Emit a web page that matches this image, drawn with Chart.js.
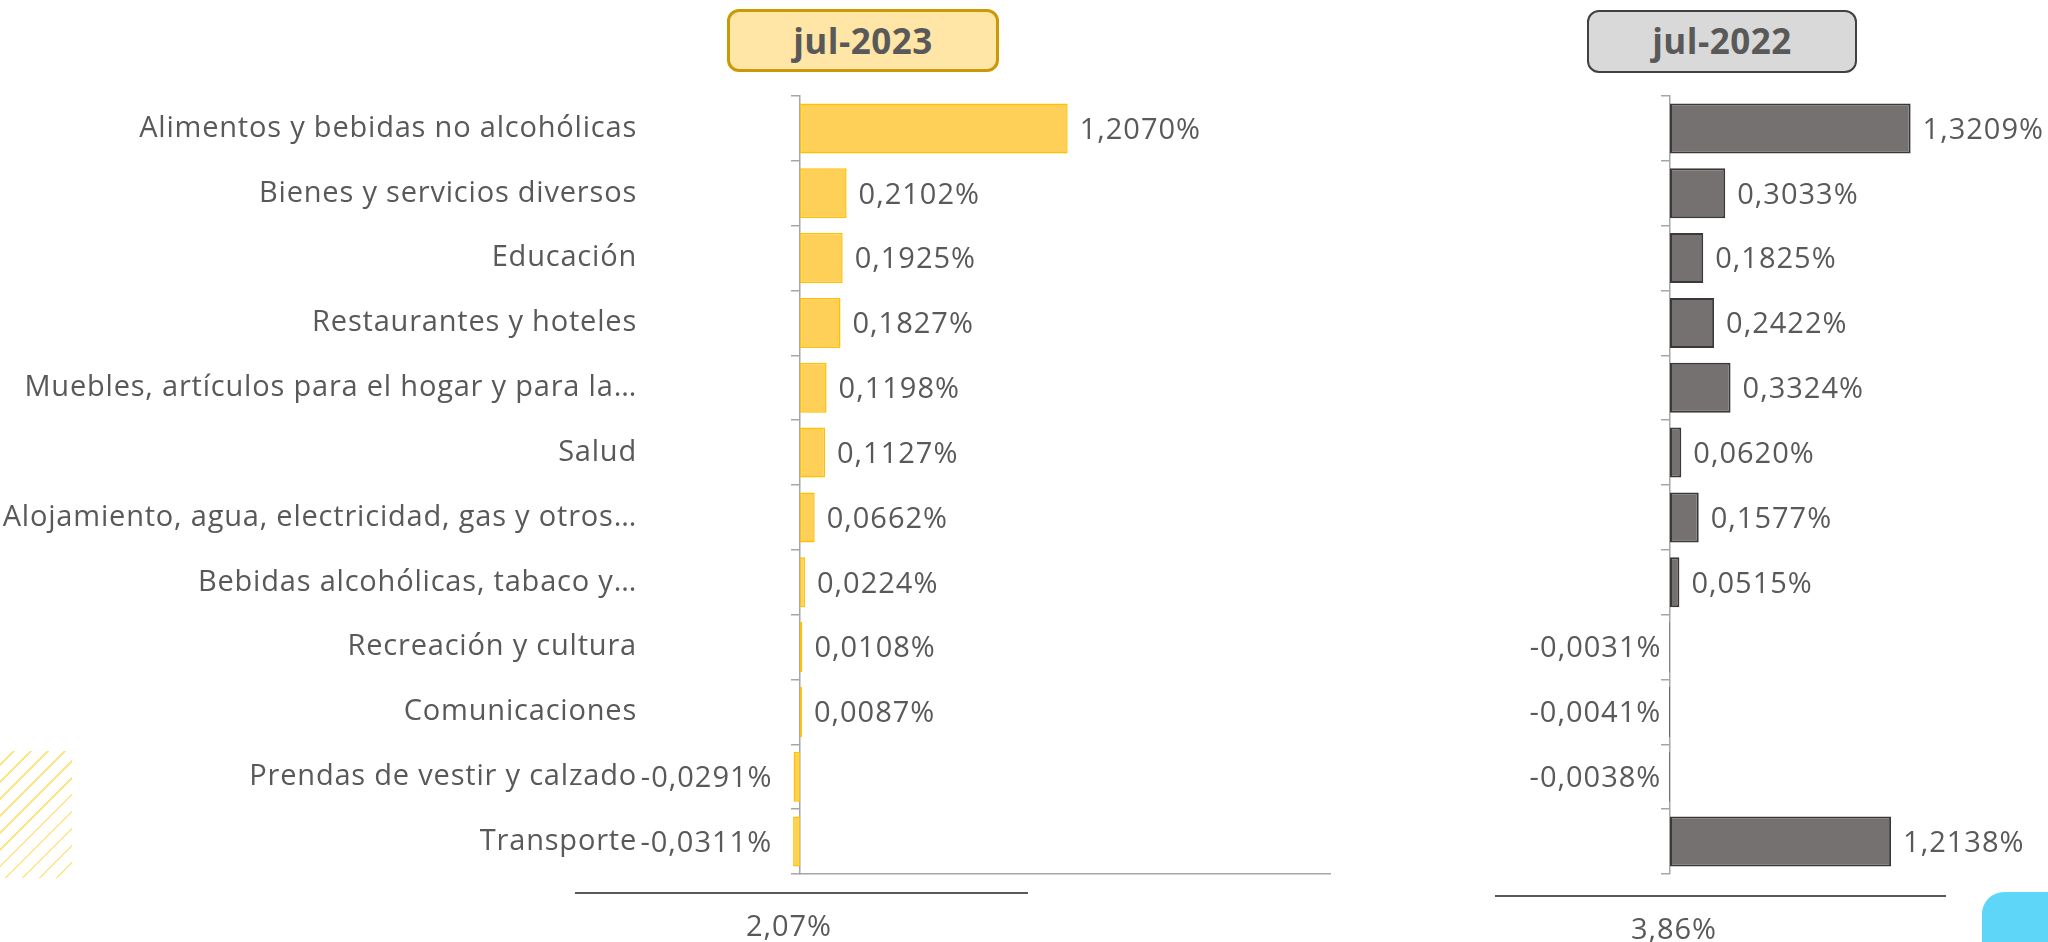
<!DOCTYPE html>
<html>
<head>
<meta charset="utf-8">
<script src="https://cdn.jsdelivr.net/npm/chart.js@4.4.0/dist/chart.umd.min.js"></script>
<style>
  body { margin: 0; width: 2048px; height: 942px; background: #fff; position: relative; overflow: hidden;
         font-family: 'Open Sans', sans-serif; color: #595959; }
  canvas { position: absolute; top: 0; }
  #chart-2023 { left: 0; }
  #chart-2022 { left: 1400px; }
  .badge { position: absolute; box-sizing: border-box; border-radius: 12px; text-align: center;
           font-weight: bold; font-size: 35px; line-height: 58px; color: #595959; letter-spacing: 0.5px; }
  #badge-2023 { left: 727px; top: 9px; width: 272px; height: 63px; background: #FFE6A6; border: 3px solid #C99A06; }
  #badge-2022 { left: 1587px; top: 10px; width: 270px; height: 63px; background: #D9D9D9; border: 2px solid #404040; }
  .total-line { position: absolute; height: 0; border-top: 2px solid #595959; }
  .total { position: absolute; width: 200px; text-align: center; font-size: 29px; letter-spacing: 1px; }
  #stripes { position: absolute; left: 0; top: 751px; width: 72px; height: 127px;
             background: repeating-linear-gradient(-45deg, transparent 0 10px, #FFE48A 10px 12px); }
  #corner { position: absolute; left: 1982px; top: 892px; width: 80px; height: 60px; background: #5ED6F8; border-radius: 22px 0 0 0; }
</style>
</head>
<body>
<div id="stripes"></div>
<div id="corner"></div>
<div class="badge" id="badge-2023">jul-2023</div>
<div class="badge" id="badge-2022">jul-2022</div>
<canvas id="chart-2023" width="1400" height="942"></canvas>
<canvas id="chart-2022" width="648" height="942"></canvas>
<div class="total-line" style="left:575px; top:892px; width:453px;"></div>
<div class="total" id="total-2023" style="left:689px; top:905px;"></div>
<div class="total-line" style="left:1495px; top:895px; width:451px;"></div>
<div class="total" id="total-2022" style="left:1574px; top:908px;"></div>
<script>
// --- Data ---
const categories = [
  'Alimentos y bebidas no alcohólicas',
  'Bienes y servicios diversos',
  'Educación',
  'Restaurantes y hoteles',
  'Muebles, artículos para el hogar y para la…',
  'Salud',
  'Alojamiento, agua, electricidad, gas y otros…',
  'Bebidas alcohólicas, tabaco y…',
  'Recreación y cultura',
  'Comunicaciones',
  'Prendas de vestir y calzado',
  'Transporte'
];
const values2023 = [1.2070, 0.2102, 0.1925, 0.1827, 0.1198, 0.1127, 0.0662, 0.0224, 0.0108, 0.0087, -0.0291, -0.0311];
const values2022 = [1.3209, 0.3033, 0.1825, 0.2422, 0.3324, 0.0620, 0.1577, 0.0515, -0.0031, -0.0041, -0.0038, 1.2138];
const totals = { '2023': '2,07%', '2022': '3,86%' };

const textColor = '#595959';
const axisColor = '#A6A6A6';
const fontFamily = "'Open Sans', sans-serif";

function fmt(v) {
  return v.toFixed(4).replace('.', ',') + '%';
}

// wider text, closer to the original typeface
const textSpacing = {
  id: 'textSpacing',
  beforeDraw(chart) { chart.ctx.letterSpacing = '0.8px'; }
};

// value labels next to each bar
const valueLabels = {
  id: 'valueLabels',
  afterDatasetsDraw(chart, args, opts) {
    const ctx = chart.ctx;
    const meta = chart.getDatasetMeta(0);
    const data = chart.data.datasets[0].data;
    ctx.save();
    ctx.letterSpacing = '1px';
    ctx.font = '29px ' + fontFamily;
    ctx.fillStyle = textColor;
    ctx.textBaseline = 'middle';
    meta.data.forEach((bar, i) => {
      const v = data[i];
      if (v >= 0) {
        ctx.textAlign = 'left';
        ctx.fillText(fmt(v), bar.x + opts.gap, bar.y + 2);
      } else {
        ctx.textAlign = 'right';
        ctx.fillText(fmt(v), bar.x - opts.negGap, bar.y + 2);
      }
    });
    ctx.restore();
  }
};

function makeChart(id, values, cfg) {
  const ctx = document.getElementById(id).getContext('2d');
  return new Chart(ctx, {
    type: 'bar',
    data: {
      labels: categories,
      datasets: [{
        data: values,
        backgroundColor: cfg.fill,
        borderColor: cfg.border,
        borderWidth: cfg.borderWidth,
        borderSkipped: false,
        categoryPercentage: 0.77,
        barPercentage: 1,
        clip: false
      }]
    },
    plugins: [textSpacing, valueLabels],
    options: {
      indexAxis: 'y',
      responsive: false,
      animation: false,
      layout: { padding: cfg.padding },
      plugins: {
        legend: { display: false },
        tooltip: { enabled: false },
        valueLabels: { gap: cfg.gap, negGap: cfg.negGap }
      },
      scales: {
        x: {
          type: 'linear',
          min: 0,
          max: cfg.max,
          display: cfg.showBottom,
          ticks: { display: false },
          grid: { display: false, drawTicks: false },
          border: { display: cfg.showBottom, color: axisColor, width: 1.5 }
        },
        y: {
          type: 'category',
          position: 'left',
          afterFit: s => {
            s.width = cfg.axisX;
            s.paddingTop = 0;
            s.paddingBottom = 0;
          },
          ticks: {
            display: cfg.showLabels,
            autoSkip: false,
            color: textColor,
            padding: cfg.labelPad,
            font: { family: fontFamily, size: 29 }
          },
          grid: { offset: true, drawOnChartArea: false, drawTicks: true, tickLength: 9, color: axisColor, lineWidth: 1.5 },
          border: { display: true, color: axisColor, width: 1.5 }
        }
      }
    }
  });
}

makeChart('chart-2023', values2023, {
  fill: '#FFD057', border: '#FFC000', borderWidth: 1.5,
  max: 2.39, axisX: 800,
  padding: { left: 0, right: 70, top: 96, bottom: 68 },
  showBottom: true, showLabels: true, labelPad: 154,
  gap: 12, negGap: 21
});

makeChart('chart-2022', values2022, {
  fill: '#767171', border: '#3B3838', borderWidth: 2,
  max: 1.85, axisX: 270,
  padding: { left: 0, right: 41, top: 96, bottom: 68 },
  showBottom: false, showLabels: false, labelPad: 0,
  gap: 12, negGap: 8
});

document.getElementById('total-2023').textContent = totals['2023'];
document.getElementById('total-2022').textContent = totals['2022'];
</script>
</body>
</html>
